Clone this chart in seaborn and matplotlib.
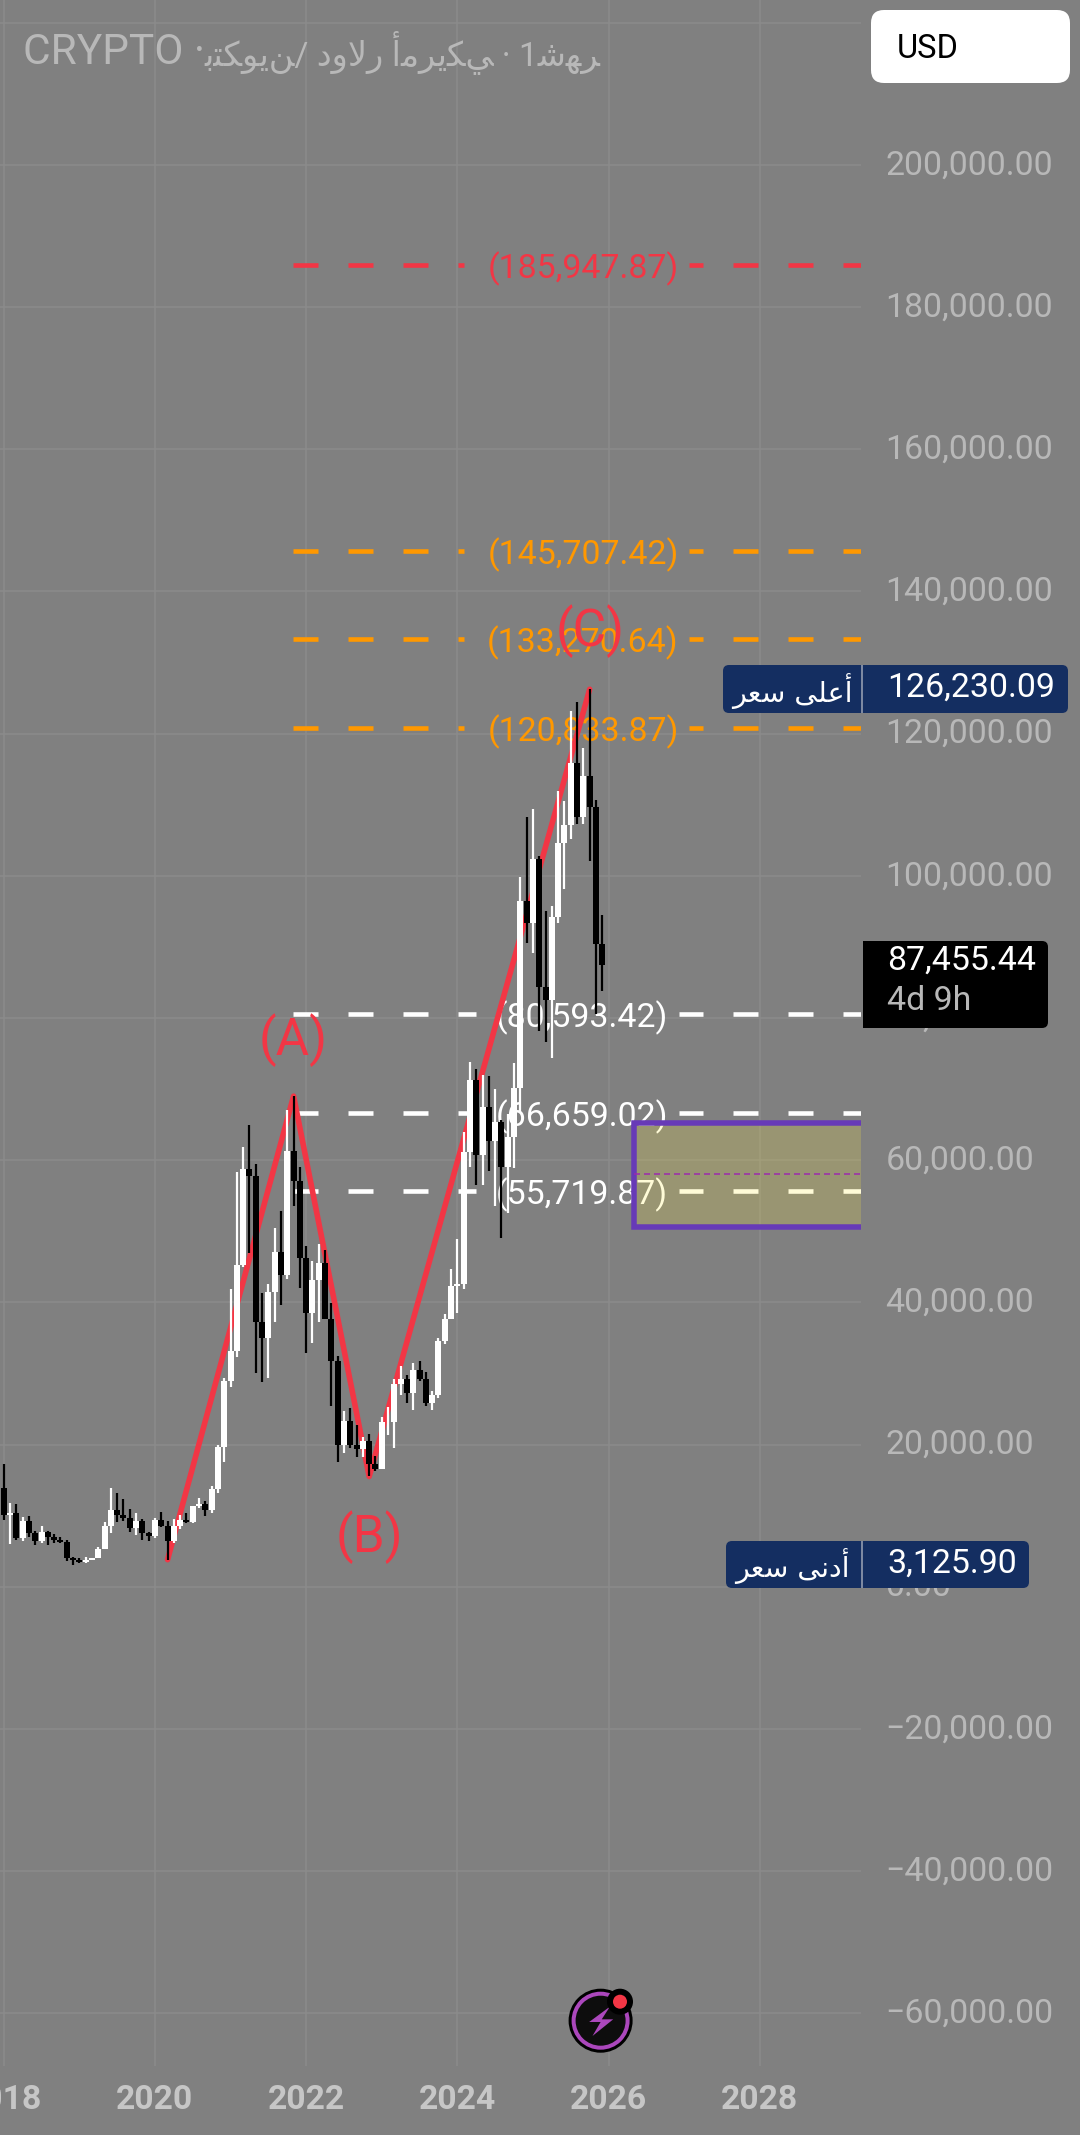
import matplotlib
matplotlib.use("Agg")
import matplotlib.pyplot as plt
from matplotlib.patches import Circle, FancyBboxPatch, Polygon, Rectangle
from matplotlib.transforms import ScaledTranslation
import numpy as np
import pandas as pd
import seaborn as sns

# --- Monthly candles from Jan 2018 to Dec 2025, read in thousands of USD ---
opens = [13.9, 10.1, 10.3, 6.9, 9.2, 7.5, 6.4, 7.7, 7.0, 6.6, 6.3, 4.0,
         3.7, 3.45, 3.8, 4.1, 5.3, 8.6, 10.8, 10.1, 9.6, 8.3, 9.2, 7.6,
         7.2, 9.35, 8.6, 6.4, 8.6, 9.45, 9.15, 11.35, 11.65, 10.8, 13.8, 19.7,
         29.0, 33.1, 45.2, 58.8, 57.7, 37.3, 35.0, 41.5, 47.1, 43.8, 61.3, 57.0,
         46.2, 38.5, 43.2, 45.5, 37.6, 31.8, 19.9, 23.3, 20.0, 19.4, 20.5, 17.2,
         16.5, 23.1, 23.1, 28.5, 29.2, 27.2, 30.5, 29.2, 25.9, 27.0, 34.5, 37.7,
         42.3, 42.6, 61.2, 71.3, 60.7, 67.5, 62.7, 65.4, 59.0, 63.3, 70.2, 96.4,
         93.4, 102.4, 84.4, 82.5, 94.2, 104.6, 107.2, 115.8, 108.2, 114.0, 109.6, 90.4]
highs = [17.2, 11.8, 11.7, 9.8, 10.0, 7.8, 8.5, 7.8, 7.4, 7.0, 6.6, 4.2,
         4.1, 4.2, 4.1, 5.6, 9.1, 13.9, 13.2, 12.3, 10.9, 10.4, 9.5, 7.7,
         9.6, 10.5, 9.2, 9.5, 10.1, 10.4, 11.4, 12.5, 12.1, 14.1, 19.9, 29.3,
         41.9, 58.3, 61.8, 64.9, 59.5, 41.3, 42.6, 50.5, 52.9, 67.0, 69.0, 59.0,
         47.9, 45.8, 48.2, 47.4, 39.9, 32.4, 24.7, 25.2, 22.8, 21.1, 21.5, 18.4,
         23.9, 25.3, 29.2, 31.0, 29.8, 31.4, 31.8, 30.2, 27.5, 35.0, 38.4, 44.7,
         48.9, 64.0, 73.8, 72.8, 72.0, 71.9, 70.0, 65.6, 66.5, 73.6, 99.8, 108.3,
         109.4, 102.8, 95.0, 95.7, 111.9, 110.5, 123.2, 124.5, 117.9, 126.2, 110.6, 94.5]
lows = [9.4, 6.0, 6.6, 6.4, 7.0, 5.8, 6.1, 5.9, 6.1, 6.2, 3.6, 3.1,
        3.35, 3.4, 3.7, 4.1, 5.3, 7.5, 9.1, 9.3, 7.7, 7.3, 6.5, 6.4,
        6.9, 8.4, 3.8, 6.2, 8.1, 8.9, 9.0, 11.0, 9.9, 10.4, 13.2, 17.6,
        28.1, 32.3, 45.0, 47.0, 30.0, 28.8, 29.3, 37.3, 39.6, 43.3, 53.5, 42.0,
        32.9, 34.3, 37.2, 37.7, 25.4, 17.6, 18.8, 19.5, 18.2, 18.2, 15.5, 16.3,
        16.5, 21.4, 19.5, 26.9, 25.8, 24.8, 29.0, 25.4, 24.9, 26.5, 34.1, 37.6,
        38.5, 41.9, 59.0, 56.5, 56.5, 58.4, 53.5, 49.0, 52.5, 58.9, 66.8, 90.5,
        89.2, 78.2, 76.6, 74.4, 93.4, 98.2, 105.1, 107.3, 107.3, 102.0, 80.6, 83.8]
closes = [10.1, 10.3, 6.9, 9.2, 7.5, 6.4, 7.7, 7.0, 6.6, 6.3, 4.0, 3.7,
          3.45, 3.8, 4.1, 5.3, 8.6, 10.8, 10.1, 9.6, 8.3, 9.2, 7.6, 7.2,
          9.35, 8.6, 6.4, 8.6, 9.45, 9.15, 11.35, 11.65, 10.8, 13.8, 19.7, 29.0,
          33.1, 45.2, 58.8, 57.7, 37.3, 35.0, 41.5, 47.1, 43.8, 61.3, 57.0, 46.2,
          38.5, 43.2, 45.5, 37.6, 31.8, 19.9, 23.3, 20.0, 19.4, 20.5, 17.2, 16.5,
          23.1, 23.1, 28.5, 29.2, 27.2, 30.5, 29.2, 25.9, 27.0, 34.5, 37.7, 42.3,
          42.6, 61.2, 71.3, 60.7, 67.5, 62.7, 65.4, 59.0, 63.3, 70.2, 96.4, 93.4,
          102.4, 84.4, 82.5, 94.2, 104.6, 107.2, 115.8, 108.2, 114.0, 109.6, 90.4, 87.5]

# A-B-C zigzag: month index from Jan 2018 and price
wave_months = [26, 46, 58, 93]
wave_prices = [3800, 69000, 15500, 126230]
wave_names = ["(A)", "(B)", "(C)"]
wave_label_prices = [76900, 7000, 134400]

# Projection levels
red_levels = [185947.87]
orange_levels = [145707.42, 133270.64, 120833.87]
white_levels = [80593.42, 66659.02, 55719.87]

zone_top = 65200
zone_bottom = 50600
zone_mid = 58100

price_ticks = list(range(-60000, 220001, 20000))
year_ticks = [2018, 2020, 2022, 2024, 2026, 2028]

# Title: the letters run left to right with their joined forms, like in the picture
title_latin = "CRYPTO \u00b7"
title_arabic = ("\ufe91\ufe98\ufedc\ufeee\ufef3\ufee6/ \ufea9\ufeed\ufefb\ufead "
                "\ufe83\ufee3\ufeae\ufef3\ufedc\ufef2 \u00b7 1\ufeb7\ufeec\ufeae")
high_label = "\ufeae\ufecc\ufeb3 \ufef0\ufee0\ufecb\ufe83"
low_label = "\ufeae\ufecc\ufeb3 \ufef0\ufee7\ufea9\ufe83"

# --- Canvas ---
W, H = 1080, 2135
AX_R, AX_B = 861, 2066
BG = "#808080"
GRID = "#8b8b8b"
AXIS_TEXT = "#b8b8b8"
RED = "#F23645"
ORANGE = "#FF9800"
NAVY = "#142E61"
PX_PT = 0.72

sns.set_theme(style="darkgrid", rc={
    "figure.facecolor": BG, "axes.facecolor": BG, "grid.color": GRID,
    "grid.linewidth": 1.5 * PX_PT, "lines.scale_dashes": False,
})
plt.rcParams["font.family"] = ["Roboto", "DejaVu Sans"]

X0 = 2017.95
PX_YEAR = 75.6


def px_year(px):
    return X0 + px / PX_YEAR


fig = plt.figure(figsize=(W / 100, H / 100), dpi=100)
ax = fig.add_axes([0, (H - AX_B) / H, AX_R / W, AX_B / H])

df = pd.DataFrame({"open": opens, "high": highs, "low": lows, "close": closes}) * 1000
df["time"] = 2018 + np.arange(len(df)) / 12
df["up"] = df["close"] >= df["open"]
df["colour"] = df["up"].map({True: "white", False: "black"})

# Zigzag under the candles
wave = pd.DataFrame({"time": 2018 + np.array(wave_months) / 12, "price": wave_prices})
sns.lineplot(data=wave, x="time", y="price", color=RED, linewidth=5.6 * PX_PT, sort=False,
             estimator=None, ax=ax, zorder=5, solid_capstyle="round", solid_joinstyle="round")

# Wicks
wicks = df.reset_index().melt(id_vars=["index", "time", "colour"], value_vars=["low", "high"],
                              value_name="price")
sns.lineplot(data=wicks, x="time", y="price", units="index", hue="colour",
             palette={"white": "white", "black": "black"}, estimator=None, sort=False,
             linewidth=2.2 * PX_PT, legend=False, ax=ax, zorder=6, solid_capstyle="butt")

# Bodies
ax.bar(df["time"], (df["close"] - df["open"]).abs(), bottom=df[["open", "close"]].min(axis=1),
       width=6 / PX_YEAR, color=df["colour"], linewidth=0, zorder=7)


def draw_level(value, colour, gap_l, gap_r, text_px):
    """Dashed level starting at point A, broken around its label."""
    on, off = 25 * PX_PT, 30 * PX_PT
    start = 293
    right = (((gap_r - start) * PX_PT) % (on + off), (on, off))
    ax.plot([px_year(start), px_year(gap_l)], [value, value], color=colour, lw=4.6 * PX_PT,
            linestyle=(0, (on, off)), zorder=3)
    ax.plot([px_year(gap_r), px_year(AX_R)], [value, value], color=colour, lw=4.6 * PX_PT,
            linestyle=right, zorder=3)
    ax.text(px_year(text_px), value, f"({value:,.2f})", color=colour, fontsize=24.4,
            ha="center", va="center_baseline", zorder=4)


for v in red_levels:
    draw_level(v, RED, 464, 689, 583)
for v in orange_levels:
    draw_level(v, ORANGE, 464, 689, 583)
for v in white_levels:
    draw_level(v, "white", 476, 679, 582)

# Yellow zone
zone_left = px_year(633.5)
ax.add_patch(Rectangle((zone_left, zone_bottom), 2031 - zone_left, zone_top - zone_bottom,
                       facecolor="#FFEB3B", alpha=0.2, linewidth=0, zorder=8))
ax.add_patch(Rectangle((zone_left, zone_bottom), 2031 - zone_left, zone_top - zone_bottom,
                       facecolor="none", edgecolor="#673AB7", linewidth=5.5 * PX_PT, zorder=8))
ax.plot([zone_left, px_year(AX_R)], [zone_mid, zone_mid], color="#9C27B0", lw=1.5 * PX_PT,
        linestyle=(0, (6 * PX_PT, 4 * PX_PT)), zorder=8)

for name, m, p in zip(wave_names, wave_months[1:], wave_label_prices):
    ax.text(2018 + m / 12, p, name, color=RED, fontsize=37, ha="center", va="center", zorder=9)

# Axes
ax.set_xlim(X0, px_year(AX_R))
ax.set_ylim(-(AX_B - 1586.7) * 140.65, 1586.7 * 140.65)
ax.set_xticks(year_ticks)
ax.set_xticklabels([str(y) for y in year_ticks], fontsize=24.3, fontweight="bold", color="#c6c6c6")
ax.set_yticks(price_ticks)
# the 220,000 line has no visible label, the USD button sits there
ax.set_yticklabels([f"{t:,.2f}".replace("-", "\u2212") if t < 220000 else "" for t in price_ticks],
                   fontsize=24.4, color=AXIS_TEXT)
ax.tick_params(axis="y", left=False, right=False, labelleft=False, labelright=True, pad=16 * PX_PT)
ax.tick_params(axis="x", bottom=False, pad=10 * PX_PT)
# price labels sit a little above their grid lines
nudge = ScaledTranslation(0, 3 / 100, fig.dpi_scale_trans)
for lbl in ax.get_yticklabels():
    lbl.set_transform(lbl.get_transform() + nudge)
ax.set_xlabel("")
ax.set_ylabel("")
for spine in ax.spines.values():
    spine.set_visible(False)

# --- Overlay in pixels for the app furniture ---
ui = fig.add_axes([0, 0, 1, 1], facecolor="none")
ui.set_xlim(0, W)
ui.set_ylim(H, 0)
ui.axis("off")

ui.text(23, 53, title_latin, color=AXIS_TEXT, fontsize=30.5, ha="left", va="center")
ui.text(204, 52, title_arabic, color=AXIS_TEXT, fontsize=24.2, ha="left", va="center")

ui.add_patch(FancyBboxPatch((871, 10), 199, 73, boxstyle="round,pad=0,rounding_size=13",
                            facecolor="white", edgecolor="none"))
ui.text(897, 49, "USD", color="black", fontsize=23.5, ha="left", va="center")


def price_tag(x0, x1, y0, y1, label, price):
    ui.add_patch(FancyBboxPatch((x0, y0), x1 - x0, y1 - y0, boxstyle="round,pad=0,rounding_size=6",
                                facecolor=NAVY, edgecolor="none"))
    ui.plot([862, 862], [y0, y1], color="#a0a8b8", lw=1.5 * PX_PT, solid_capstyle="butt")
    ui.text(792, (y0 + y1) / 2 + 2, label, color="white", fontsize=20.5, ha="center", va="center",
            family="DejaVu Sans")
    ui.text(887, (y0 + y1) / 2 - 1, price, color="white", fontsize=24.4, ha="left", va="center")


price_tag(723, 1068, 665, 713, high_label, "126,230.09")
price_tag(726, 1029, 1541, 1588, low_label, "3,125.90")

ui.add_patch(FancyBboxPatch((863, 941), 185, 87, boxstyle="round,pad=0,rounding_size=6",
                            facecolor="black", edgecolor="none"))
ui.add_patch(Rectangle((863, 941), 20, 87, facecolor="black", edgecolor="none"))
ui.text(887, 961, "87,455.44", color="white", fontsize=24.4, ha="left", va="center")
ui.text(887, 1001, "4d 9h", color=AXIS_TEXT, fontsize=24.4, ha="left", va="center")

# Lightning button
ui.add_patch(Circle((600.6, 2020.7), 32, facecolor="black", edgecolor="none"))
ui.add_patch(Circle((600.6, 2020.7), 27, facecolor="#0d0d0d", edgecolor="#AB47BC", linewidth=4 * PX_PT))
bolt_x = [297, 241, 272, 250, 306, 275]
bolt_y = [170, 216, 216, 258, 208, 208]
ui.add_patch(Polygon([(500 + a / 2.703, 1950 + b / 3) for a, b in zip(bolt_x, bolt_y)],
                     facecolor="#AB47BC", edgecolor="none"))
ui.add_patch(Circle((620, 2001.7), 13, facecolor="black", edgecolor="none"))
ui.add_patch(Circle((620, 2001.7), 7, facecolor=RED, edgecolor="none"))

fig.savefig("out.png", dpi=100, facecolor=BG)
